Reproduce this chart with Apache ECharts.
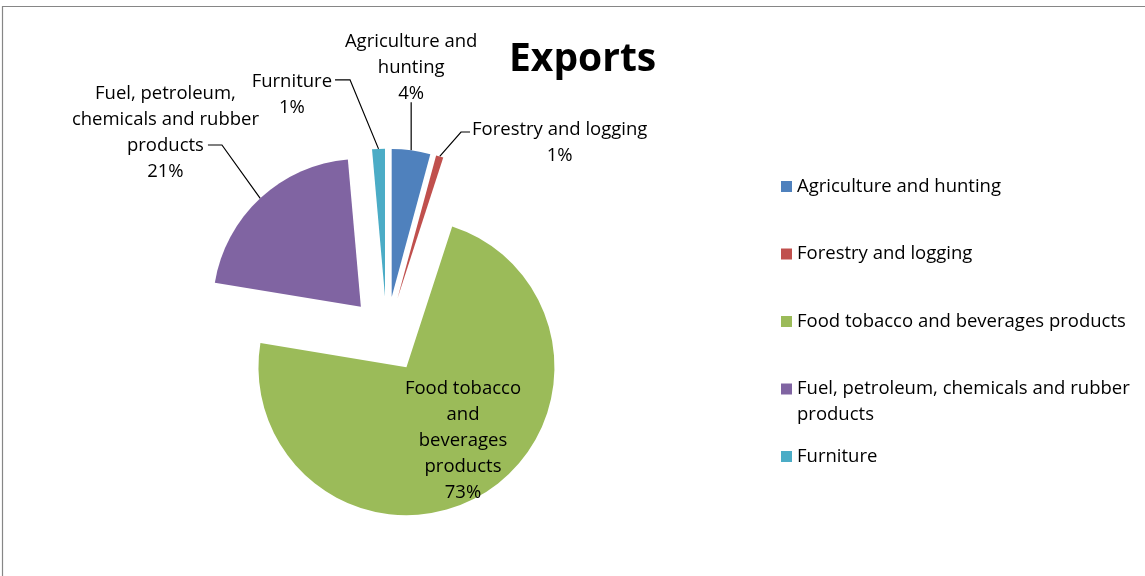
<!DOCTYPE html>
<html><head><meta charset="utf-8">
<script src="https://cdn.jsdelivr.net/npm/echarts@6/dist/echarts.min.js"></script>
<style>html,body{margin:0;padding:0;background:#fff}#chart{width:1145px;height:576px}</style>
</head><body><div id="chart"></div>
<script>
// ---- data ----
const categories = ['Agriculture and hunting', 'Forestry and logging', 'Food tobacco and beverages products', 'Fuel, petroleum, chemicals and rubber products', 'Furniture'];
const shares = [4.2, 0.8, 72.6, 21.0, 1.4];
const labelTexts = ['Agriculture and\nhunting', 'Forestry and logging', 'Food tobacco\nand\nbeverages\nproducts', 'Fuel, petroleum,\nchemicals and rubber\nproducts', 'Furniture'];
const titleText = 'Exports';

// ---- style / layout ----
const colors = ['#4F81BD', '#C0504D', '#9BBB59', '#8064A2', '#4BACC6'];
const FONT = '"Open Sans", "Noto Sans", sans-serif';
const FS = 18.5;
const CX = 386.7, CY = 334.7, R = 148, EXPLODE = 38;
// leader lines & label anchors, relative to each slice's outer arc midpoint
const labelPlacement = [
  { line: [[0, -48], [0, -48]], anchor: [0, -44], side: 'center', v: 'bottom' },
  { line: [[21.3, -24.4], [30.3, -24.4]], anchor: [32.3, -39.4], side: 'left', v: 'top' },
  { line: null, anchor: [-20.4, -53], side: 'center', v: 'middle' },
  { line: [[-38.3, -53.3], [-52.3, -53.3]], anchor: [-94.8, -117.5], side: 'center', v: 'top' },
  { line: [[-28.5, -69], [-43.5, -69]], anchor: [-46.5, -80], side: 'right', v: 'top' }
];
const legendWrapped = [false, false, false, true, false];

const total = shares.reduce((a, b) => a + b, 0);
const arcPts = [];
let cum = 0;
const series = shares.map((v, i) => {
  const startDeg = cum / total * 360;
  const midRad = (cum + v / 2) / total * 2 * Math.PI;
  cum += v;
  const cx = CX + EXPLODE * Math.sin(midRad);
  const cy = CY - EXPLODE * Math.cos(midRad);
  arcPts[i] = [cx + R * Math.sin(midRad), cy - R * Math.cos(midRad)];
  return {
    type: 'pie',
    center: [cx, cy],
    radius: [0, R],
    startAngle: 90 - startDeg,
    clockwise: true,
    avoidLabelOverlap: false,
    silent: true,
    animation: false,
    emphasis: { disabled: true },
    labelLine: { show: true, lineStyle: { color: '#000', width: 1.2 } },
    label: {
      fontFamily: FONT, fontSize: FS, lineHeight: 26, color: '#000', align: 'center'
    },
    labelLayout: function (p) {
      if (p.dataIndex !== 0) return {};
      const pl = labelPlacement[p.seriesIndex];
      const a = arcPts[p.seriesIndex];
      const w = p.labelRect.width;
      let x = a[0] + pl.anchor[0];
      const y = a[1] + pl.anchor[1];
      if (pl.side === 'left') x += w / 2;
      else if (pl.side === 'right') x -= w / 2;
      const out = { x: x, y: y, align: 'center', verticalAlign: pl.v };
      if (pl.line) out.labelLinePoints = [a.slice()].concat(pl.line.map(d => [a[0] + d[0], a[1] + d[1]]));
      return out;
    },
    data: [
      {
        name: categories[i], value: v, itemStyle: { color: colors[i] },
        label: {
          show: true, position: i === 2 ? 'inside' : 'outside',
          formatter: p => labelTexts[i] + '\n' + Math.round(p.percent) + '%'
        },
        labelLine: { show: i !== 2 }
      },
      {
        name: '', value: total - v, itemStyle: { color: 'rgba(0,0,0,0)' },
        label: { show: false }, labelLine: { show: false }
      }
    ]
  };
});

// every legend entry box is three text lines tall; a wrapped entry keeps its first line beside the marker
const legendData = categories.map((name, i) => ({
  name: name,
  textStyle: { padding: legendWrapped[i] ? 0 : [26, 0, 26, 0] }
}));

const chart = echarts.init(document.getElementById('chart'), null, { renderer: 'canvas' });
chart.setOption({
  backgroundColor: '#fff',
  animation: false,
  title: {
    text: titleText, left: 509, top: 40, padding: 0,
    textStyle: { fontFamily: FONT, fontSize: 39, fontWeight: 'bold', color: '#000', lineHeight: 40 }
  },
  legend: {
    orient: 'vertical', left: 781, top: 147.5, padding: 0,
    itemWidth: 11, itemHeight: 11, itemGap: -10.5, icon: 'rect',
    selectedMode: false, data: legendData,
    formatter: name => (legendWrapped[categories.indexOf(name)] ? '\n' : '') + name,
    textStyle: { fontFamily: FONT, fontSize: FS, color: '#000', lineHeight: 26, width: 345, overflow: 'break' }
  },
  graphic: [{
    type: 'rect', silent: true,
    shape: { x: 2.5, y: 6.5, width: 1300, height: 800 },
    style: { fill: 'none', stroke: '#868686', lineWidth: 1.2 }
  }],
  series: series
});
</script>
</body></html>
